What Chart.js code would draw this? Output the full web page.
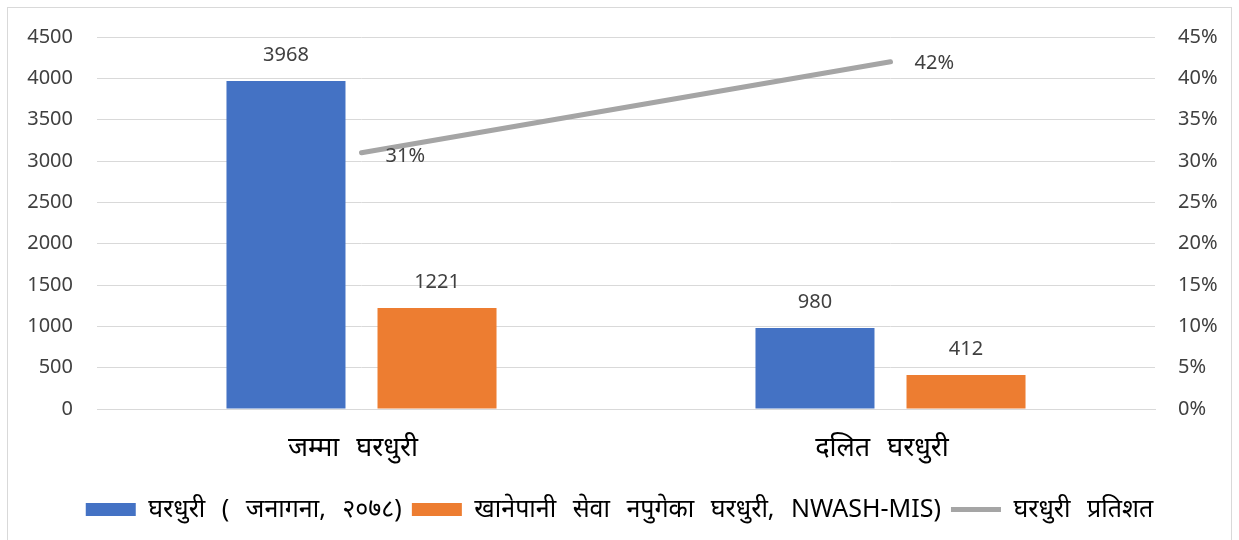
<!DOCTYPE html>
<html>
<head>
<meta charset="utf-8">
<script src="https://cdn.jsdelivr.net/npm/chart.js@4.4.1/dist/chart.umd.min.js"></script>
<style>
  html, body { margin: 0; padding: 0; background: #ffffff; }
  #wrap { position: relative; width: 1239px; height: 540px; }
</style>
</head>
<body>
<div id="wrap"><canvas id="c" width="1239" height="540"></canvas></div>
<script>
const categories = ['जम्मा घरधुरी ', 'दलित घरधुरी '];
const householdsCensus = [3968, 980];
const householdsNoWater = [1221, 412];
const percentShare = [0.31, 0.42];
const seriesNames = ['घरधुरी ( जनागना, २०७८)', 'खानेपानी सेवा नपुगेका घरधुरी, NWASH-MIS)', 'घरधुरी प्रतिशत'];
const leftTicks = [0, 500, 1000, 1500, 2000, 2500, 3000, 3500, 4000, 4500];
const rightTicks = [0, 0.05, 0.10, 0.15, 0.20, 0.25, 0.30, 0.35, 0.40, 0.45];

const FONT = '"Noto Sans", "Noto Sans Devanagari", "Lohit Devanagari", "Open Sans", sans-serif';
const WORD_SPACING = '10px';

const spacingPlugin = {
  id: 'wordSpacing',
  beforeUpdate(chart) { chart.ctx.wordSpacing = WORD_SPACING; },
  beforeLayout(chart) { chart.ctx.wordSpacing = WORD_SPACING; },
  beforeDraw(chart) { chart.ctx.wordSpacing = WORD_SPACING; }
};

const borderPlugin = {
  id: 'outerBorder',
  beforeDraw(chart) {
    const ctx = chart.ctx;
    ctx.save();
    ctx.fillStyle = '#ffffff';
    ctx.fillRect(0, 0, chart.width, chart.height);
    ctx.strokeStyle = '#d9d9d9';
    ctx.lineWidth = 1;
    ctx.strokeRect(7.5, 7.5, 1224, 560);
    ctx.restore();
  }
};

const labelPlugin = {
  id: 'valueLabels',
  afterDatasetsDraw(chart) {
    const ctx = chart.ctx;
    ctx.save();
    ctx.font = '20px ' + FONT;
    ctx.fillStyle = '#404040';
    chart.data.datasets.forEach((ds, di) => {
      const meta = chart.getDatasetMeta(di);
      meta.data.forEach((el, i) => {
        const v = ds.data[i];
        if (ds.type === 'line') {
          ctx.textAlign = 'left';
          ctx.textBaseline = 'middle';
          ctx.fillText(Math.round(v * 100) + '%', el.x + 24, el.y + (i === 0 ? 4 : 1));
        } else {
          ctx.textAlign = 'center';
          ctx.textBaseline = 'middle';
          ctx.fillText(String(v), el.x, el.y - 26);
        }
      });
    });
    ctx.restore();
  }
};

new Chart(document.getElementById('c'), {
  data: {
    labels: categories,
    datasets: [
      {
        type: 'line',
        label: seriesNames[2],
        data: percentShare,
        yAxisID: 'y1',
        borderColor: '#a5a5a5',
        backgroundColor: '#a5a5a5',
        borderWidth: 5,
        borderCapStyle: 'round',
        pointRadius: 0,
        pointHoverRadius: 0,
        pointStyle: 'line',
        order: 0
      },
      {
        type: 'bar',
        label: seriesNames[0],
        data: householdsCensus,
        yAxisID: 'y',
        backgroundColor: '#4472c4',
        borderWidth: 0,
        categoryPercentage: 0.571,
        barPercentage: 0.788,
        pointStyle: 'rect',
        order: 1
      },
      {
        type: 'bar',
        label: seriesNames[1],
        data: householdsNoWater,
        yAxisID: 'y',
        backgroundColor: '#ed7d31',
        borderWidth: 0,
        categoryPercentage: 0.571,
        barPercentage: 0.788,
        pointStyle: 'rect',
        order: 2
      }
    ]
  },
  options: {
    responsive: false,
    animation: false,
    layout: { padding: { top: 37, bottom: 8, left: 0, right: 0 } },
    plugins: {
      tooltip: { enabled: false },
      legend: {
        position: 'bottom',
        labels: {
          font: { size: 25, family: FONT },
          color: '#000000',
          usePointStyle: true,
          pointStyleWidth: 50,
          boxHeight: 13,
          padding: 10,
          sort: (a, b) => {
            const ord = [1, 2, 0];
            return ord.indexOf(a.datasetIndex) - ord.indexOf(b.datasetIndex);
          },
          generateLabels(chart) {
            const items = Chart.defaults.plugins.legend.labels.generateLabels(chart);
            items.forEach(it => {
              const ds = chart.data.datasets[it.datasetIndex];
              if (ds.type === 'line') {
                it.pointStyle = 'line';
                it.lineWidth = 5;
                it.strokeStyle = '#a5a5a5';
                it.lineCap = 'butt';
              } else {
                it.pointStyle = 'rect';
                it.lineWidth = 0;
              }
            });
            return items;
          }
        }
      }
    },
    scales: {
      x: {
        grid: { display: false, drawTicks: false },
        border: { display: true, color: '#d9d9d9', width: 1 },
        ticks: { font: { size: 27, family: FONT }, color: '#000000', padding: 23 },
        afterFit(s) { s.height = 78; }
      },
      y: {
        position: 'left',
        min: 0, max: 4500,
        afterBuildTicks(s) { s.ticks = leftTicks.map(v => ({ value: v })); },
        grid: { color: '#d9d9d9', lineWidth: 1, drawTicks: false },
        border: { display: false },
        ticks: {
          font: { size: 20, family: FONT }, color: '#404040', padding: 24,
          callback: v => String(v)
        },
        afterFit(s) { s.width = 97; }
      },
      y1: {
        position: 'right',
        min: 0, max: 0.45,
        afterBuildTicks(s) { s.ticks = rightTicks.map(v => ({ value: v })); },
        grid: { display: false, drawTicks: false },
        border: { display: false },
        ticks: {
          font: { size: 20, family: FONT }, color: '#404040', padding: 23,
          callback: v => Math.round(v * 100) + '%'
        },
        afterFit(s) { s.width = 84; }
      }
    }
  },
  plugins: [spacingPlugin, borderPlugin, labelPlugin]
});
</script>
</body>
</html>
